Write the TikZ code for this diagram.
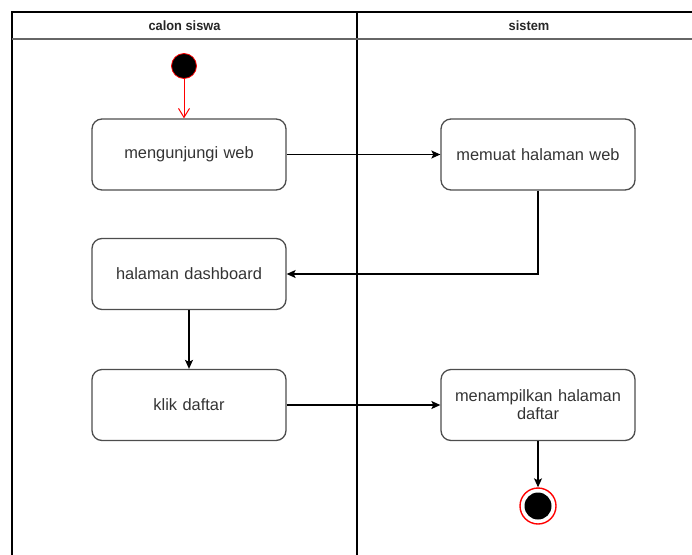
\documentclass[tikz,border=0pt]{standalone}
\usepackage{fontspec}
\setmainfont{Liberation Sans}
\usetikzlibrary{arrows.meta}
\definecolor{boxline}{HTML}{4D4D4D}
\definecolor{txt}{HTML}{333333}
\definecolor{hdr}{HTML}{666666}
\begin{document}
\begin{tikzpicture}[x=1pt,y=-1pt,
  act/.style={draw=boxline,line width=1.3pt,rounded corners=10pt,minimum width=194pt,minimum height=71pt,
    text=txt,font=\fontsize{16.4}{19}\selectfont,align=center,inner sep=0pt,text width=180pt},
  flow/.style={draw=black,line width=1.2pt,-{Stealth[length=9pt,width=8pt,inset=2pt]}},
  hdrtxt/.style={font=\bfseries\fontsize{13.5}{15}\selectfont,text=black!85,inner sep=0pt}]
\useasboundingbox (0,0) rectangle (692,554);
% swimlanes
\draw[black,line width=1.4pt] (12,560) -- (12,12) -- (700,12);
\draw[black,line width=1.4pt] (357,12) -- (357,560);
\draw[hdr,line width=2pt] (12,39) -- (700,39);
\node[hdrtxt] (h1) at (184.5,25.5) {\scalebox{0.95}[1]{calon siswa}};
\node[hdrtxt] (h2) at (529,25.5) {\scalebox{0.95}[1]{sistem}};
% start
\node[circle,fill=black,draw=red,line width=0.8pt,minimum size=25pt,inner sep=0pt] (start) at (184,66) {};
% activities
\node[act] (a1) at (189,154.5) {mengunjungi web};
\node[act] (a2) at (538,154.5) {memuat halaman web};
\node[act] (a3) at (189,274) {halaman dashboard};
\node[act] (a4) at (189,405) {klik daftar};
\node[act] (a5) at (538,405) {menampilkan halaman\\[-1pt]daftar};
% end
\node[circle,draw=red,fill=white,line width=1.4pt,minimum size=36pt,inner sep=0pt] (end) at (538,506) {};
\node[circle,fill=black,minimum size=27pt,inner sep=0pt] (endin) at (end) {};
% connectors
\draw[red,line width=1pt,-{Straight Barb[length=9pt,width=11pt]}] (start) -- (start |- a1.north);
\draw[flow] (a1) -- (a2);
\draw[flow] (a2.south) |- (a3.east);
\draw[flow] (a3) -- (a4);
\draw[flow] (a4) -- (a5);
\draw[flow] (a5) -- (end);
\end{tikzpicture}
\end{document}
